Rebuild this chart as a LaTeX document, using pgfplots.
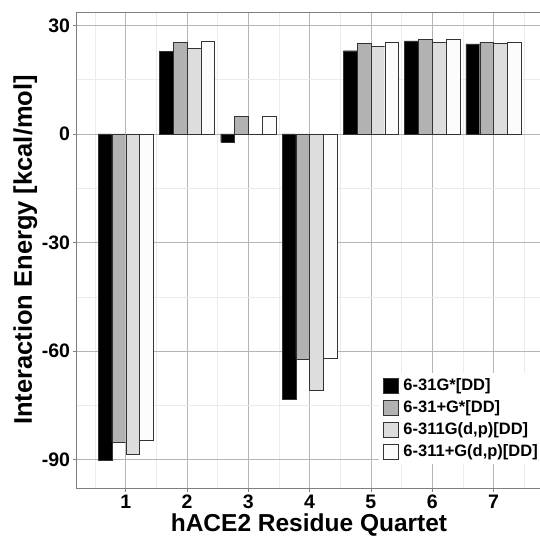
\documentclass[border=0pt]{standalone}
\usepackage{fontspec}
\setmainfont{Liberation Sans}
\usepackage{pgfplots}
\pgfplotsset{compat=1.18}
\definecolor{barB}{HTML}{B2B2B2}
\definecolor{barC}{HTML}{DDDDDD}
\definecolor{barD}{HTML}{FCFCFC}
\definecolor{edge}{HTML}{333333}
\definecolor{border}{HTML}{7F7F7F}
\definecolor{gridmaj}{HTML}{B5B5B5}
\definecolor{gridmin}{HTML}{EBEBEB}
\begin{document}
\begin{tikzpicture}
  % fix the page to the reference frame: panel at origin
  \useasboundingbox (-76.7pt,-49pt) rectangle (463.3pt,488pt);
  \begin{axis}[
      scale only axis,
      width=464.6pt, height=476pt,
      xmin=0.2, xmax=7.78,
      ymin=-97.8, ymax=33.7,
      ybar=0pt, bar width=0.225,
      xtick={1,2,3,4,5,6,7},
      xticklabels={1,2,3,4,5,6,7},
      ytick={-90,-60,-30,0,30},
      yticklabels={-90,-60,-30,0,30},
      minor xtick={0.5,1.5,2.5,3.5,4.5,5.5,6.5,7.5},
      minor ytick={-75,-45,-15,15},
      xtick pos=bottom, ytick pos=left,
      grid=both,
      major grid style={color=gridmaj, line width=0.8pt},
      minor grid style={color=gridmin, line width=0.6pt},
      axis line style={color=border, line width=0.8pt},
      tick style={color=border, line width=0.8pt},
      tick align=outside, major tick length=4pt, minor tick length=0pt,
      ticklabel style={font=\fontsize{19.5}{20}\selectfont\bfseries, inner sep=1pt},
      xticklabel style={yshift=-1.5pt},
      yticklabel style={xshift=-1.5pt},
      xlabel={hACE2 Residue Quartet},
      ylabel={Interaction Energy [kcal/mol]},
      label style={font=\fontsize{25.5}{28}\selectfont\bfseries},
      xlabel style={at={(axis description cs:0.5,0)}, anchor=base, inner sep=0pt,
        yshift=-44pt, font=\fontsize{24.5}{27}\selectfont\bfseries},
      legend style={
        at={(0.65,0.242)}, anchor=north west,
        draw=none, fill=white,
        font=\fontsize{16.5}{18}\selectfont\bfseries,
        row sep=4.5pt, inner sep=4pt,
        /tikz/every odd column/.append style={column sep=3pt},
      },
      legend cell align=left,
      legend image code/.code={\draw[#1, draw=edge, line width=0.6pt] (-1pt,-7.5pt) rectangle (14pt,7.5pt);},
    ]
    \addplot[fill=black, draw=edge] coordinates {
      (1,-90.2) (2,22.8) (3,-2.3) (4,-73.2) (5,23.0) (6,25.7) (7,24.9)};
    \addplot[fill=barB, draw=edge] coordinates {
      (1,-85.1) (2,25.3) (3,4.9) (4,-62.2) (5,25.0) (6,26.1) (7,25.4)};
    \addplot[fill=barC, draw=edge] coordinates {
      (1,-88.6) (2,23.7) (3,-0.2) (4,-70.8) (5,24.3) (6,25.4) (7,25.0)};
    \addplot[fill=barD, draw=edge] coordinates {
      (1,-84.5) (2,25.5) (3,5.0) (4,-61.9) (5,25.3) (6,26.1) (7,25.4)};
    \addlegendentry{6-31G*[DD]}
    \addlegendentry{6-31+G*[DD]}
    \addlegendentry{6-311G(d,p)[DD]}
    \addlegendentry{6-311+G(d,p)[DD]}
  \end{axis}
\end{tikzpicture}
\end{document}
